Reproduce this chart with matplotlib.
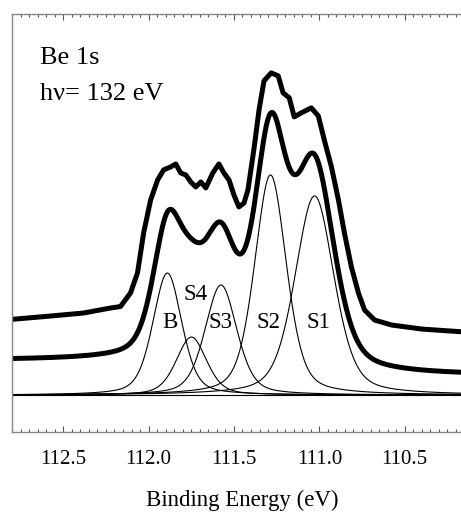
import numpy as np
import matplotlib.pyplot as plt
from matplotlib.ticker import MultipleLocator

plt.rcParams['font.family'] = ['Liberation Serif', 'DejaVu Serif']

# fitted components: name, centre (eV), height, FWHM (eV)
comp_names = ['B', 'S4', 'S3', 'S2', 'S1']
comp_centre = [111.89, 111.749, 111.576, 111.286, 111.028]
comp_height = [122, 58, 110, 220, 199]
comp_fwhm = [0.20, 0.21, 0.22, 0.22, 0.27]
lorentz_frac = 0.4

# Shirley background levels of the fit (high-BE side, low-BE side)
bg_left, bg_right = 34.5, 19.5

# measured spectrum (offset upwards)
data_energy = [112.800, 112.576, 112.382, 112.224, 112.165, 112.106, 112.065, 112.029,
               111.988, 111.947, 111.912, 111.871, 111.841, 111.812,
               111.782, 111.753, 111.724, 111.694, 111.665, 111.624, 111.588, 111.559,
               111.529, 111.500, 111.471, 111.441, 111.418, 111.382, 111.353, 111.324,
               111.282, 111.241, 111.212, 111.176, 111.147, 111.106, 111.047, 111.006,
               110.971, 110.929, 110.888, 110.853, 110.812, 110.771, 110.735, 110.676,
               110.576, 110.400, 110.100]
data_counts = [75.7, 79, 82, 87, 88.5, 102, 122, 162,
               195, 215, 225, 228, 231, 222,
               220, 213, 208, 213, 207, 222, 231, 222,
               215, 200, 188, 192, 205, 247, 285, 314,
               322, 319, 302, 297, 278, 282, 287, 279,
               255, 228, 195, 162, 128, 102, 85, 75,
               70, 66, 62.5]

# component labels: text, energy, height
label_text = ['B', 'S4', 'S3', 'S2', 'S1']
label_x = [111.876, 111.726, 111.576, 111.300, 111.003]
label_y = [67, 95, 67, 67, 67]


def pseudo_voigt(e, c, h, w):
    x = (e - c) / (w / 2)
    lor = 1 / (1 + x**2)
    gau = np.exp(-np.log(2) * x**2)
    return h * (lorentz_frac * lor + (1 - lorentz_frac) * gau)


energy = np.linspace(110.0, 112.9, 800)
comps = [pseudo_voigt(energy, c, h, w) for c, h, w in zip(comp_centre, comp_height, comp_fwhm)]
total = np.sum(comps, axis=0)
frac = np.cumsum(total) / np.sum(total)
fit = bg_right + (bg_left - bg_right) * frac + total

fig = plt.figure(figsize=(4.61, 5.12), dpi=100)
ax = fig.add_axes([0.026, 0.156, 1.0, 0.817])

ax.axhline(0, color='black', lw=0.8)
for y in comps:
    ax.plot(energy, y, color='black', lw=0.8)
ax.plot(energy, fit, color='black', lw=3.6, solid_capstyle='round')
ax.plot(data_energy, np.array(data_counts), color='black', lw=3.6,
        solid_joinstyle='round', solid_capstyle='round')

for t, x, y in zip(label_text, label_x, label_y):
    ax.text(x, y, t, ha='center', va='baseline', fontsize=16.5)

ax.text(112.635, 331, 'Be 1s', ha='left', va='baseline', fontsize=19)
ax.text(112.635, 295, 'h\u03bd= 132 eV', ha='left', va='baseline', fontsize=19)

ax.set_xlim(112.8, 110.1)
ax.set_ylim(-37, 381)
ax.xaxis.set_major_locator(MultipleLocator(0.5))
ax.xaxis.set_minor_locator(MultipleLocator(0.05))
ax.xaxis.set_major_formatter(plt.FuncFormatter(lambda v, p: f'{v:.1f}'))
ax.set_yticks([])
ax.tick_params(axis='x', which='both', direction='in', top=True, bottom=True,
               colors='#555555', labelcolor='black', labelsize=15, pad=13)
ax.tick_params(axis='x', which='major', length=4.5, width=0.8)
ax.tick_params(axis='x', which='minor', length=2.2, width=0.8)
for s in ax.spines.values():
    s.set_color('#888888')
    s.set_linewidth(1.0)
ax.set_xlabel('Binding Energy (eV)', fontsize=16.5, labelpad=15)

fig.savefig('out.png', dpi=100)
